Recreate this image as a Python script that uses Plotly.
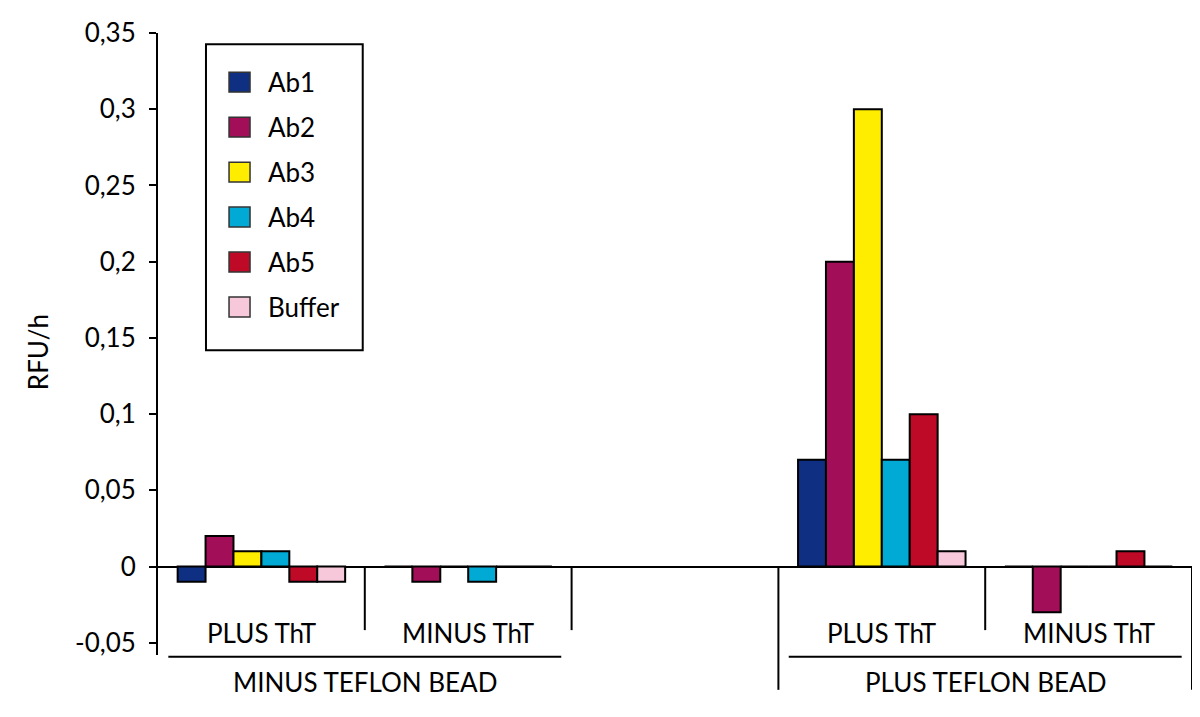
import plotly.graph_objects as go

# slot order along the x axis (empty slot separates the two bead groups)
tht_labels = ["PLUS ThT", "MINUS ThT", "", "PLUS ThT", "MINUS ThT"]
bead_labels = ["MINUS TEFLON BEAD", "PLUS TEFLON BEAD"]
bead_slots = [[0, 1], [3, 4]]

series_names = ["Ab1", "Ab2", "Ab3", "Ab4", "Ab5", "Buffer"]
series_colors = ["#0f2f82", "#a30e59", "#ffed00", "#00aad4", "#be0a26", "#f6c8da"]

ab1 = [-0.01, 0, None, 0.07, 0]
ab2 = [0.02, -0.01, None, 0.2, -0.03]
ab3 = [0.01, 0, None, 0.3, 0]
ab4 = [0.01, -0.01, None, 0.07, 0]
ab5 = [-0.01, 0, None, 0.1, 0.01]
buffer = [-0.01, 0, None, 0.01, 0]
series_values = [ab1, ab2, ab3, ab4, ab5, buffer]

tick_vals = [-0.05, 0, 0.05, 0.1, 0.15, 0.2, 0.25, 0.3, 0.35]
tick_labels = ["-0,05", "0", "0,05", "0,1", "0,15", "0,2", "0,25", "0,3", "0,35"]

FONT = "Lato"
FS = 26
n_slots = len(tht_labels)
slots = list(range(n_slots))

fig = go.Figure()
for name, color, vals in zip(series_names, series_colors, series_values):
    fig.add_trace(go.Bar(x=slots, y=vals, name=name,
                         marker=dict(color=color, line=dict(color="black", width=2))))

# page body has an 8px margin, so the figure is 8px smaller than the window
fig.update_layout(
    width=1192, height=709,
    margin=dict(l=150, r=8, t=25, b=62),
    barmode="group", bargap=0.19, bargroupgap=0,
    plot_bgcolor="white", paper_bgcolor="white",
    showlegend=False,
    font=dict(family=FONT, size=FS, color="black"),
    xaxis=dict(range=[-0.5, n_slots - 0.5], showticklabels=False, ticks="",
               showgrid=False, zeroline=False, showline=False),
    yaxis=dict(range=[-0.058, 0.35], tickvals=tick_vals, ticktext=tick_labels,
               ticks="outside", ticklen=7, tickwidth=2, tickcolor="black",
               showline=True, linewidth=2, linecolor="black",
               showgrid=False, zeroline=True, zerolinecolor="black", zerolinewidth=2,
               tickfont=dict(size=FS), ticklabelstandoff=8),
)

# y title
fig.add_annotation(text="RFU/h", textangle=-90, xref="paper", yref="paper",
                   x=-0.116, y=0.487, xanchor="center", yanchor="middle",
                   showarrow=False, font=dict(size=FS))

# category labels and divider lines under the axis
for k, lab in enumerate(tht_labels):
    if lab:
        fig.add_annotation(text=lab, xref="x", yref="paper", x=k, y=0.035,
                           xanchor="center", yanchor="middle",
                           showarrow=False, font=dict(size=FS))

line = dict(color="black", width=2)
for bead, idx in zip(bead_labels, bead_slots):
    first, last = idx[0], idx[-1]
    fig.add_annotation(text=bead, xref="x", yref="paper", x=(first + last) / 2, y=-0.043,
                       xanchor="center", yanchor="middle",
                       showarrow=False, font=dict(size=FS))
    fig.add_shape(type="line", xref="x domain", yref="paper",
                  x0=(first + 0.05) / n_slots, x1=(last + 0.95) / n_slots,
                  y0=-0.003, y1=-0.003, line=line)

# short separators between ThT groups, long ones around the bead group
y_zero = (0 + 0.058) / (0.35 + 0.058)
for b in [1, 2, 4]:
    fig.add_shape(type="line", xref="x domain", yref="paper", x0=b / n_slots, x1=b / n_slots,
                  y0=y_zero, y1=0.04, line=line)
for b in [3, 5]:
    fig.add_shape(type="line", xref="x domain", yref="paper", x0=b / n_slots, x1=b / n_slots,
                  y0=y_zero, y1=-0.056, line=line)

# legend box drawn by hand (square swatches as in the source figure)
fig.add_shape(type="rect", xref="paper", yref="paper", x0=0.0464, x1=0.198, y0=0.49, y1=0.982,
              line=dict(color="black", width=2), fillcolor="white")
for i, (name, color) in enumerate(zip(series_names, series_colors)):
    yc = 0.921 - i * 0.0723
    fig.add_shape(type="rect", xref="paper", yref="paper", x0=0.0687, x1=0.089,
                  y0=yc - 0.016, y1=yc + 0.016, fillcolor=color, line=dict(color="#333", width=1.5))
    fig.add_annotation(text=name, xref="paper", yref="paper", x=0.104, y=yc,
                       xanchor="left", yanchor="middle",
                       showarrow=False, font=dict(size=FS))

fig.write_html("out.html")
